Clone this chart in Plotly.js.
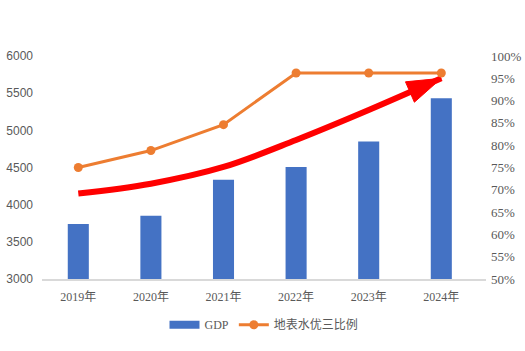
<!DOCTYPE html>
<html>
<head>
<meta charset="utf-8">
<script src="https://cdn.plot.ly/plotly-3.0.1.min.js"></script>
<style>html,body{margin:0;padding:0;background:#fff;}#chart{width:525px;height:351px;}</style>
</head>
<body>
<div id="chart"></div>
<script>
var years = ['2019年', '2020年', '2021年', '2022年', '2023年', '2024年'];
var gdp = [3740, 3850, 4335, 4507, 4851, 5432];
var waterRatio = [0.75, 0.788, 0.846, 0.962, 0.962, 0.962];
var trend = [4150, 4282, 4507, 4870, 5273, 5700];

var serifCJK = '"Liberation Serif", "Times New Roman", "Noto Sans CJK SC", serif';
var textColor = '#595959';

var traces = [
  {
    type: 'bar', name: 'GDP', x: years, y: gdp, showlegend: false,
    marker: {color: '#4472C4'}, width: 0.29, yaxis: 'y', hoverinfo: 'skip'
  },
  {
    type: 'scatter', mode: 'lines', name: 'GDP', x: [null], y: [null], yaxis: 'y',
    line: {color: '#4472C4', width: 8}, hoverinfo: 'skip', legendrank: 1
  },
  {
    type: 'scatter', mode: 'lines+markers', x: years, y: trend, yaxis: 'y',
    showlegend: false, hoverinfo: 'skip',
    line: {color: '#FF0000', width: 6, shape: 'spline', smoothing: 1},
    marker: {
      symbol: trend.map(function(v, i){ return i === trend.length - 1 ? 'arrow' : 'circle'; }),
      size: trend.map(function(v, i){ return i === trend.length - 1 ? 36 : 0; }),
      color: '#FF0000', opacity: 1, angleref: 'previous', line: {width: 1, color: '#FF0000'}
    }
  },
  {
    type: 'scatter', mode: 'lines+markers', name: '地表水优三比例', x: years, y: waterRatio,
    yaxis: 'y2', hoverinfo: 'skip', legendrank: 2,
    line: {color: '#ED7D31', width: 3},
    marker: {color: '#ED7D31', size: 9}
  }
];

var layout = {
  width: 525, height: 351,
  margin: {l: 42, r: 39, t: 56, b: 69},
  paper_bgcolor: '#ffffff', plot_bgcolor: '#ffffff',
  showlegend: true,
  legend: {
    orientation: 'h', x: 0.5, xanchor: 'center', y: -0.205, yanchor: 'middle',
    font: {family: serifCJK, size: 12, color: textColor}, itemwidth: 30,
    tracegroupgap: 0
  },
  xaxis: {
    type: 'category', showgrid: false, zeroline: false,
    showline: true, linecolor: '#D9D9D9', linewidth: 2,
    ticks: '', tickfont: {family: serifCJK, size: 12, color: textColor},
    ticklabelstandoff: 6
  },
  yaxis: {
    range: [3000, 6000], dtick: 500, showgrid: false, zeroline: false, showline: false,
    ticks: '', tickfont: {family: '"Liberation Sans", Arial, sans-serif', size: 12, color: textColor},
    ticklabelstandoff: 8
  },
  yaxis2: {
    overlaying: 'y', side: 'right', range: [0.5, 1.0], dtick: 0.05, tickformat: '.0%',
    showgrid: false, zeroline: false, showline: false, ticks: '',
    tickfont: {family: serifCJK, size: 13, color: textColor},
    ticklabelstandoff: 4
  }
};

Plotly.newPlot('chart', traces, layout, {displayModeBar: false, staticPlot: true});
</script>
</body>
</html>
